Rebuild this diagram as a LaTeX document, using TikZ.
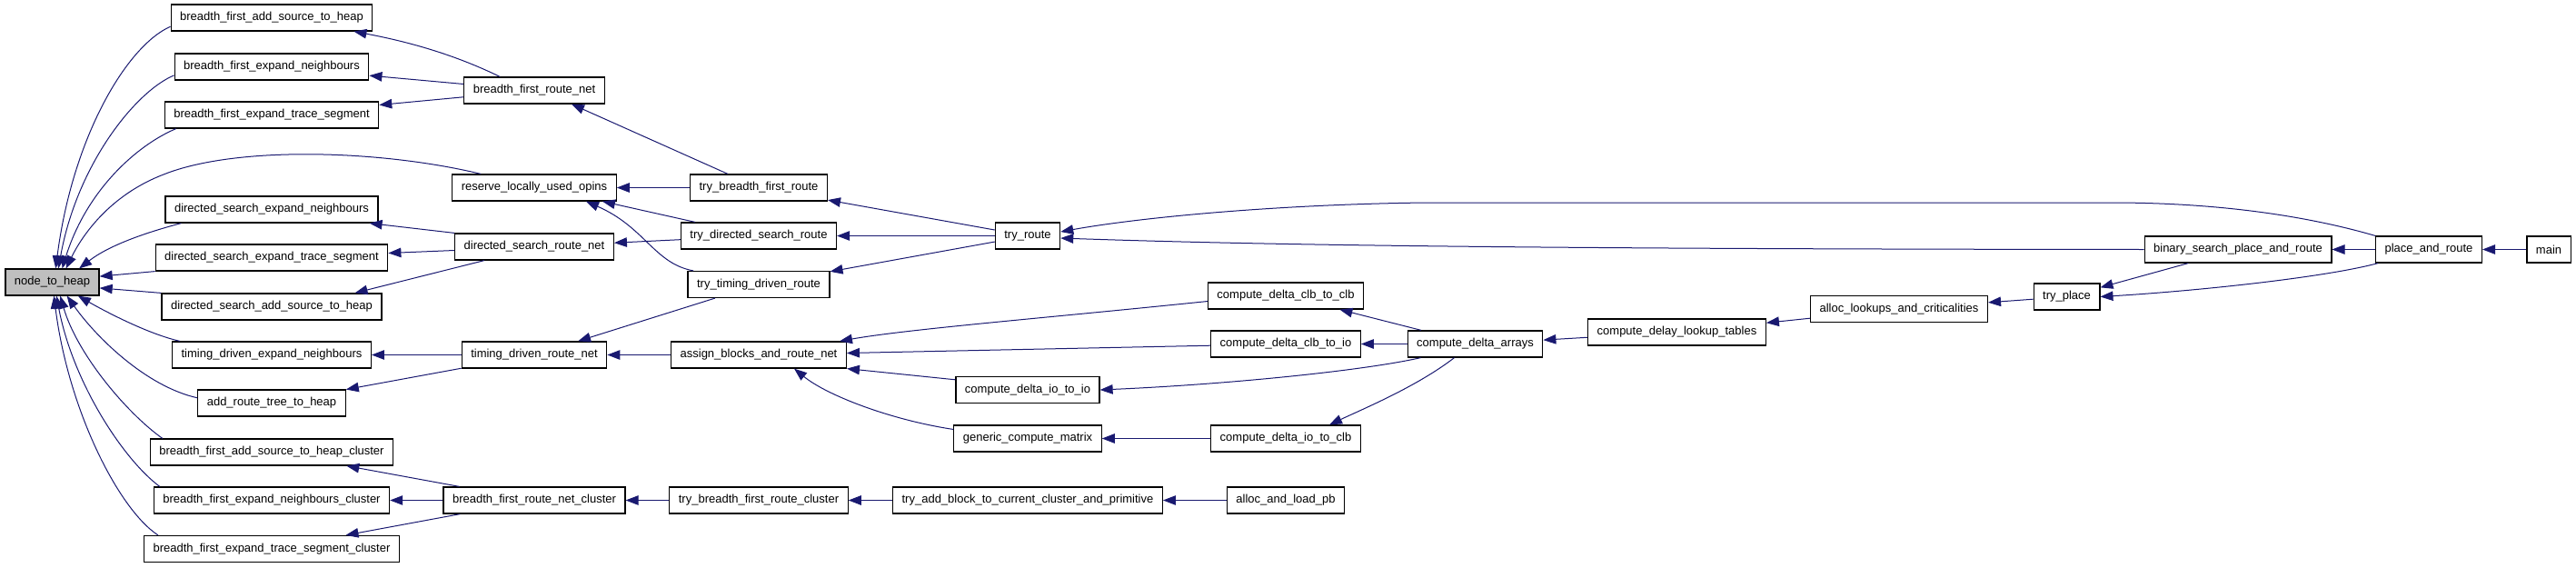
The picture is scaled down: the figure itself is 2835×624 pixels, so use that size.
\documentclass[tikz,border=0pt]{standalone}
\usepackage{fontspec}
\setmainfont{Liberation Sans}
\usetikzlibrary{arrows.meta}
\definecolor{edgeblue}{HTML}{191970}
\definecolor{nodegray}{HTML}{BFBFBF}

\begin{document}
\begin{tikzpicture}[x=1pt,y=-1pt,
    func/.style={draw=black,fill=white,line width=1.2pt,inner xsep=10pt,inner ysep=0pt,
      minimum height=29pt,font=\fontsize{13}{15}\selectfont},
    calls/.style={draw=edgeblue,line width=1pt,-{Triangle[length=14pt,width=10.5pt]}}]
    \useasboundingbox (0,0) rectangle (2835,624);
    % first column
    \node[func,fill=nodegray] (nth) at (57.5,310.5) {node\_to\_heap};
    % second column
    \node[func] (bfas) at (299,19.5) {breadth\_first\_add\_source\_to\_heap};
    \node[func] (bfen) at (299,73.5) {breadth\_first\_expand\_neighbours};
    \node[func] (bfets) at (299,126.5) {breadth\_first\_expand\_trace\_segment};
    \node[func] (dsen) at (299,230.5) {directed\_search\_expand\_neighbours};
    \node[func] (dsets) at (299,283.5) {directed\_search\_expand\_trace\_segment};
    \node[func] (dsas) at (299,337.5) {directed\_search\_add\_source\_to\_heap};
    \node[func] (tden) at (299,390.5) {timing\_driven\_expand\_neighbours};
    \node[func] (arth) at (299,443.5) {add\_route\_tree\_to\_heap};
    \node[func] (bfasc) at (299,497.5) {breadth\_first\_add\_source\_to\_heap\_cluster};
    \node[func] (bfenc) at (299,550.5) {breadth\_first\_expand\_neighbours\_cluster};
    \node[func] (bfetsc) at (299,604) {breadth\_first\_expand\_trace\_segment\_cluster};
    % third column
    \node[func] (bfrn) at (588,99.5) {breadth\_first\_route\_net};
    \node[func] (rluo) at (588,206.5) {reserve\_locally\_used\_opins};
    \node[func] (dsrn) at (588,271.5) {directed\_search\_route\_net};
    \node[func] (tdrn) at (588,390.5) {timing\_driven\_route\_net};
    \node[func] (bfrnc) at (588,550.5) {breadth\_first\_route\_net\_cluster};
    % fourth column
    \node[func] (tbfr) at (835,206.5) {try\_breadth\_first\_route};
    \node[func] (tdsr) at (835,259.5) {try\_directed\_search\_route};
    \node[func] (ttdr) at (835,313) {try\_timing\_driven\_route};
    \node[func] (abrn) at (835,390.5) {assign\_blocks\_and\_route\_net};
    \node[func] (tbfrc) at (835,550.5) {try\_breadth\_first\_route\_cluster};
    % fifth column
    \node[func] (troute) at (1131,259.5) {try\_route};
    \node[func] (cdii) at (1131,429) {compute\_delta\_io\_to\_io};
    \node[func] (gcm) at (1131,482.5) {generic\_compute\_matrix};
    \node[func] (tabc) at (1131,550.5) {try\_add\_block\_to\_current\_cluster\_and\_primitive};
    % sixth column
    \node[func] (cdcc) at (1415,325.5) {compute\_delta\_clb\_to\_clb};
    \node[func] (cdci) at (1415,378.5) {compute\_delta\_clb\_to\_io};
    \node[func] (cdic) at (1415,482.5) {compute\_delta\_io\_to\_clb};
    \node[func] (alp) at (1415,550.5) {alloc\_and\_load\_pb};
    % the rest
    \node[func] (cda) at (1623.5,378.5) {compute\_delta\_arrays};
    \node[func] (cdlt) at (1845.5,365.5) {compute\_delay\_lookup\_tables};
    \node[func] (alc) at (2090,340) {alloc\_lookups\_and\_criticalities};
    \node[func] (tplace) at (2274.5,326.5) {try\_place};
    \node[func] (bspr) at (2463,274.5) {binary\_search\_place\_and\_route};
    \node[func] (par) at (2673,274.5) {place\_and\_route};
    \node[func] (main) at (2805,274.5) {main};

    % callers of node_to_heap
    \draw[calls] (bfas.185) .. controls (140,50) and (80,150) .. (nth.76);
    \draw[calls] (bfen.185) .. controls (150,100) and (85,180) .. (nth.66);
    \draw[calls] ([xshift=13pt]bfets.south west) .. controls (150,160) and (95,210) .. (nth.54);
    \draw[calls] ([xshift=32pt]rluo.north west) .. controls (420,165) and (260,160) .. (180,192)
        .. controls (120,215) and (90,260) .. (nth.45);
    \draw[calls] ([xshift=18pt]dsen.south west) .. controls (160,256) and (120,270) .. (nth.27);
    \draw[calls] (dsets.south west) -- (nth.7);
    \draw[calls] (dsas.north west) -- (nth.-7);
    \draw[calls] ([xshift=9pt]tden.north west) .. controls (165,368) and (120,345) .. (nth.-28);
    \draw[calls] (arth.176) .. controls (160,425) and (105,370) .. (nth.-43);
    \draw[calls] ([xshift=14pt]bfasc.north west) .. controls (140,455) and (85,390) .. (nth.-60);
    \draw[calls] ([xshift=7pt]bfenc.north west) .. controls (135,505) and (80,420) .. (nth.-73);
    \draw[calls] ([xshift=16pt]bfetsc.north west) .. controls (130,560) and (75,450) .. (nth.-83);

    \draw[calls] ([xshift=40pt]bfrn.north west) .. controls (500,60) and (450,46) .. ([xshift=-21pt]bfas.south east);
    \draw[calls] (bfrn) -- (bfen);
    \draw[calls] (bfrn) -- (bfets);
    \draw[calls] ([xshift=-34pt]tbfr.north) -- ([xshift=41pt]bfrn.south);
    \draw[calls] (tbfr) -- (rluo);
    \draw[calls] ([xshift=-70pt]tdsr.north) -- ([xshift=75pt]rluo.south);
    \draw[calls] ([xshift=-72pt]ttdr.north) .. controls (720,290) and (710,250) .. ([xshift=57pt]rluo.south);
    \draw[calls] (dsrn.north west) -- ([xshift=-10pt]dsen.south east);
    \draw[calls] ([yshift=-4pt]dsrn.west) -- ([yshift=5pt]dsets.east);
    \draw[calls] ([xshift=-55pt]dsrn.south) -- ([xshift=-30pt]dsas.north east);
    \draw[calls] (tdsr) -- (dsrn);
    \draw[calls] (tdrn) -- (tden);
    \draw[calls] (tdrn) -- (arth);
    \draw[calls] (ttdr) -- (tdrn);
    \draw[calls] (abrn) -- (tdrn);
    \draw[calls] (bfrnc) -- (bfasc);
    \draw[calls] (bfrnc) -- (bfenc);
    \draw[calls] (bfrnc) -- (bfetsc);
    \draw[calls] (tbfrc) -- (bfrnc);
    \draw[calls] (tabc) -- (tbfrc);
    \draw[calls] (alp) -- (tabc);

    \draw[calls] (troute) -- (tbfr);
    \draw[calls] (troute) -- (tdsr);
    \draw[calls] (troute) -- (ttdr);
    \draw[calls] (par.north west) .. controls (2530,235) and (2430,223) .. (2324,223) -- (1569,223)
        .. controls (1400,225) and (1250,240) .. (troute.7);
    \draw[calls] (bspr.west) .. controls (1700,274) and (1400,270) .. (troute.-4);

    \draw[calls] (cdcc.184) .. controls (1150,350) and (1000,362) .. ([xshift=-8pt]abrn.north east);
    \draw[calls] (cdci) -- (abrn);
    \draw[calls] (cdii.172) -- (abrn.south east);
    \draw[calls] (gcm.173) .. controls (980,462) and (910,435) .. ([xshift=39pt]abrn.south);
    \draw[calls] (cdic) -- (gcm);
    \draw[calls] (cda) -- (cdcc);
    \draw[calls] (cda) -- (cdci);
    \draw[calls] ([xshift=15pt]cda.south west) .. controls (1500,408) and (1350,423) .. (cdii.east);
    \draw[calls] ([xshift=-23pt]cda.south) .. controls (1560,425) and (1500,450) .. ([xshift=48pt]cdic.north);
    \draw[calls] (cdlt) -- (cda);
    \draw[calls] (alc) -- (cdlt);
    \draw[calls] (tplace) -- (alc);
    \draw[calls] (bspr) -- (tplace);
    \draw[calls] ([xshift=3pt]par.south west) .. controls (2560,305) and (2420,320) .. (tplace.east);
    \draw[calls] (par) -- (bspr);
    \draw[calls] (main) -- (par);
\end{tikzpicture}
\end{document}
